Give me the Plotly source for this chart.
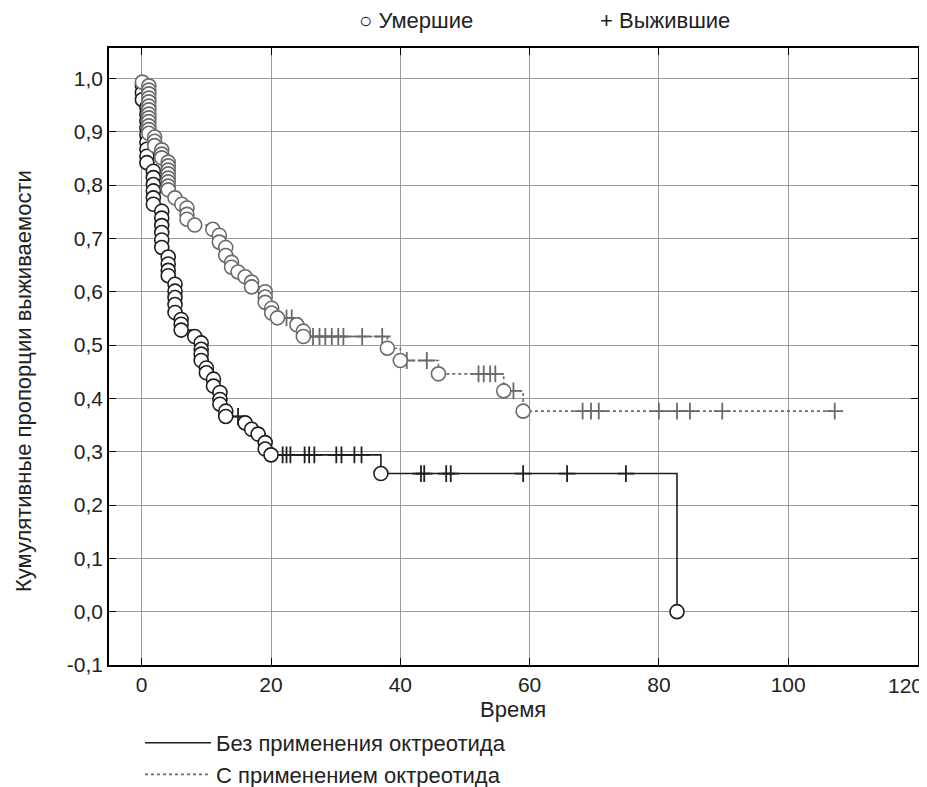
import plotly.graph_objects as go

# ---------- data ----------
# Group 1: without octreotide (black, solid)
b_death_t = [0.1, 0.1, 0.1,
             0.8, 0.8, 0.8, 0.8, 0.8, 0.8, 0.8, 0.8, 0.8,
             1.8, 1.8, 1.8, 1.8, 1.8, 1.8,
             3.1, 3.1, 3.1, 3.1, 3.1, 3.1,
             4.1, 4.1, 4.1, 4.1,
             5.15, 5.15, 5.15, 5.15, 5.15,
             6.1, 6.1, 6.1,
             8.2,
             9.2, 9.2, 9.2, 9.2,
             10.0, 10.0,
             11.1, 11.1,
             12.1, 12.1, 12.1,
             13.0, 13.0,
             16.0, 17.0, 18.0,
             19.1, 19.1, 20.0,
             37.0, 82.8]
b_death_s = [0.987, 0.973, 0.960,
             0.946, 0.933, 0.920, 0.907, 0.894, 0.880, 0.867, 0.854, 0.842,
             0.826, 0.814, 0.801, 0.789, 0.776, 0.764,
             0.751, 0.738, 0.724, 0.711, 0.697, 0.683,
             0.665, 0.652, 0.640, 0.630,
             0.614, 0.601, 0.589, 0.576, 0.561,
             0.548, 0.539, 0.528,
             0.516,
             0.504, 0.492, 0.483, 0.471,
             0.457, 0.448,
             0.436, 0.423,
             0.411, 0.398, 0.389,
             0.376, 0.366,
             0.354, 0.342, 0.333,
             0.317, 0.305, 0.294,
             0.259, 0.0]
b_cens_t = [14.9, 21.8, 22.4, 23.0, 25.2, 25.9, 26.7, 30.1, 30.9, 32.9, 34.0,
            43.2, 43.7, 47.1, 47.8, 59.0, 65.8, 74.9]

# Group 2: with octreotide (grey, dotted)
g_death_t = [0.1,
             1.1, 1.1, 1.1, 1.1, 1.1, 1.1, 1.1, 1.1, 1.1, 1.1, 1.1, 1.1, 1.1,
             2.0, 2.0, 2.0,
             3.1, 3.1, 3.1,
             4.1, 4.1, 4.1, 4.1, 4.1, 4.1, 4.1, 4.1,
             5.15, 6.2,
             7.0, 7.0, 7.0,
             8.2, 11.0,
             12.0, 12.0,
             13.0, 13.0,
             13.9, 13.9,
             14.9, 16.0,
             17.0, 17.0,
             19.1, 19.1, 19.1,
             20.1, 20.1,
             21.0, 24.0,
             25.0, 25.0,
             38.0, 40.0, 45.9, 56.0, 59.0]
g_death_s = [0.993,
             0.986, 0.978, 0.971, 0.963, 0.956, 0.948, 0.941, 0.933, 0.926, 0.919, 0.911, 0.904, 0.897,
             0.890, 0.882, 0.874,
             0.866, 0.858, 0.851,
             0.843, 0.836, 0.828, 0.821, 0.813, 0.806, 0.798, 0.791,
             0.776, 0.764,
             0.757, 0.745, 0.736,
             0.725, 0.717,
             0.706, 0.693,
             0.683, 0.668,
             0.655, 0.646,
             0.637, 0.628,
             0.618, 0.609,
             0.600, 0.590, 0.580,
             0.569, 0.560,
             0.551, 0.538,
             0.526, 0.516,
             0.494, 0.471, 0.446, 0.414, 0.376]
g_cens_t = [22.4, 23.2, 26.5, 27.5, 28.4, 29.4, 30.4, 31.2, 34.1, 37.2,
            41.0, 44.1, 52.1, 52.9, 53.9, 54.7, 57.5,
            68.2, 69.5, 70.7, 80.0, 82.8, 84.8, 89.8, 107.2]

x_ticks = [0, 20, 40, 60, 80, 100, 120]
x_tick_text = ["0", "20", "40", "60", "80", "100", "120"]
y_ticks = [-0.1, 0.0, 0.1, 0.2, 0.3, 0.4, 0.5, 0.6, 0.7, 0.8, 0.9, 1.0]
y_tick_text = ["-0,1", "0,0", "0,1", "0,2", "0,3", "0,4", "0,5",
               "0,6", "0,7", "0,8", "0,9", "1,0"]

group_names = ["Без применения октреотида", "С применением октреотида"]
legend_top = ["○ Умершие", "+ Выжившие"]


def step_path(death_t, death_s, cens_t, start=1.0):
    ev = [(t, 0, s) for t, s in zip(death_t, death_s)] + [(t, 1, None) for t in cens_t]
    ev.sort(key=lambda e: (e[0], e[1]))
    xs, ys = [0.0], [start]
    level = start
    for t, kind, s in ev:
        if kind == 0:
            level = s
        xs.append(t)
        ys.append(level)
    return xs, ys


def level_at(t, death_t, death_s, start=1.0):
    lv = start
    for dt, ds in sorted(zip(death_t, death_s), key=lambda p: p[0]):
        if dt <= t:
            lv = ds
    return lv


FONT = "Liberation Sans, Arial, sans-serif"
TXT = "#222222"

# figure geometry (page has an 8px body margin)
W, H = 919, 779
ML, MR, MT, MB = 101, 9, 40, 122
PW, PH = W - ML - MR, H - MT - MB


def paper_x(page_px):
    return (page_px - 8 - ML) / PW


def paper_y(page_py):
    return 1 - (page_py - 8 - MT) / PH


fig = go.Figure()

groups = [
    (b_death_t, b_death_s, b_cens_t, "#1e1e1e", "solid", group_names[0]),
    (g_death_t, g_death_s, g_cens_t, "#6a6a6a", "dot", group_names[1]),
]

for dt, ds, ct, col, dash, name in groups:
    xs, ys = step_path(dt, ds, ct)
    fig.add_trace(go.Scatter(x=xs, y=ys, mode="lines", line_shape="hv",
                             line=dict(color=col, width=1.6, dash=dash),
                             name=name, showlegend=True, hoverinfo="skip"))
    cy = [level_at(t, dt, ds) for t in ct]
    fig.add_trace(go.Scatter(x=ct, y=cy, mode="markers", showlegend=False,
                             marker=dict(symbol="cross-thin", size=12,
                                         line=dict(color=col, width=1.8))))
    fig.add_trace(go.Scatter(x=dt, y=ds, mode="markers", showlegend=False,
                             marker=dict(symbol="circle", size=14, color="white",
                                         line=dict(color=col, width=1.6))))

axis_common = dict(showline=True, linecolor="black", linewidth=1.5, mirror="ticks",
                   ticks="inside", ticklen=7, tickcolor="black", tickwidth=1.2,
                   showgrid=True, gridcolor="#9a9a9a", gridwidth=1, zeroline=False,
                   tickfont=dict(family=FONT, size=21, color=TXT))

# the last x label sits at the very right edge: draw it as an annotation
# nudged inward so it is not clipped
fig.update_xaxes(range=[-5.06, 120.08], tickvals=x_ticks,
                 ticktext=x_tick_text[:-1] + [""], **axis_common)
fig.update_yaxes(range=[-0.1, 1.057], tickvals=y_ticks, ticktext=y_tick_text,
                 ticklabelstandoff=0, **axis_common)

fig.update_layout(
    width=W, height=H,
    margin=dict(l=ML, r=MR, t=MT, b=MB, autoexpand=False),
    paper_bgcolor="white", plot_bgcolor="white",
    font=dict(family=FONT, size=22, color=TXT),
    showlegend=True,
    legend=dict(x=paper_x(140), y=paper_y(722), xanchor="left", yanchor="top",
                orientation="v", itemwidth=66, bgcolor="rgba(0,0,0,0)",
                font=dict(family=FONT, size=22, color=TXT), tracegroupgap=0),
    annotations=[
        dict(text="Время", x=paper_x(513), y=paper_y(709), xref="paper", yref="paper",
             xanchor="center", yanchor="middle", showarrow=False,
             font=dict(family=FONT, size=22, color=TXT)),
        dict(text="Кумулятивные пропорции выживаемости", x=paper_x(23), y=paper_y(381),
             xref="paper", yref="paper", textangle=-90, showarrow=False,
             xanchor="center", yanchor="middle",
             font=dict(family=FONT, size=22, color=TXT)),
        dict(text=legend_top[0], x=paper_x(416), y=paper_y(21), xref="paper", yref="paper",
             xanchor="center", yanchor="middle", showarrow=False,
             font=dict(family=FONT, size=22, color=TXT)),
        dict(text=legend_top[1], x=paper_x(665), y=paper_y(21), xref="paper", yref="paper",
             xanchor="center", yanchor="middle", showarrow=False,
             font=dict(family=FONT, size=22, color=TXT)),
        dict(text=x_tick_text[-1], x=x_ticks[-1], xref="x", y=paper_y(685), yref="paper",
             xanchor="right", yanchor="middle", xshift=8, showarrow=False,
             font=dict(family=FONT, size=21, color=TXT)),
    ],
)

fig.write_html("out.html")
